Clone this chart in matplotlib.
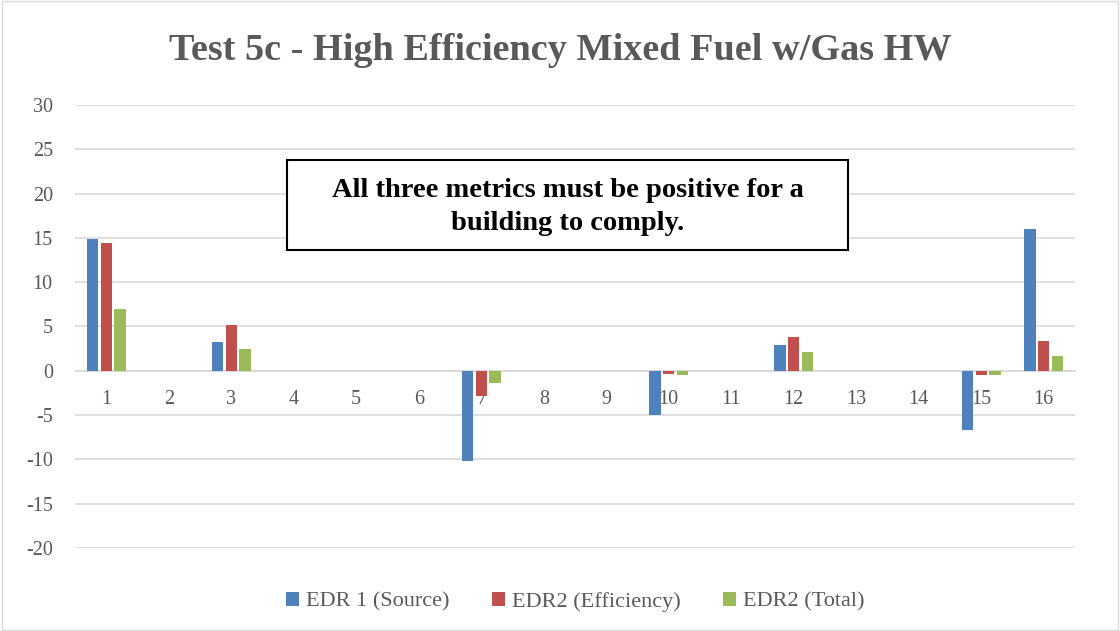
import matplotlib.pyplot as plt
import matplotlib.patches as mpatches
import numpy as np

plt.rcParams['font.family'] = ['Liberation Serif', 'DejaVu Serif']
plt.rcParams['axes.unicode_minus'] = False

categories = [str(i) for i in range(1, 17)]
edr1_source = [14.9, 0, 3.2, 0, 0, 0, -10.2, 0, 0, -5.0, 0, 2.9, 0, 0, -6.65, 16.0]
edr2_eff = [14.4, 0, 5.2, 0, 0, 0, -2.9, 0, 0, -0.4, 0, 3.8, 0, 0, -0.5, 3.35]
edr2_total = [7.0, 0, 2.5, 0, 0, 0, -1.35, 0, 0, -0.45, 0, 2.1, 0, 0, -0.5, 1.7]
series_names = ["EDR 1 (Source)", "EDR2 (Efficiency)", "EDR2 (Total)"]
colors = ["#4F81BD", "#C0504D", "#9BBB59"]

gray = "#595959"

fig = plt.figure(figsize=(11.2, 6.31), dpi=100)
ax = fig.add_axes([75/1120, 1 - 548/631, 1000/1120, 443/631])

x = np.arange(len(categories))
w = 0.18
step = 0.22
for i, (vals, c) in enumerate(zip([edr1_source, edr2_eff, edr2_total], colors)):
    ax.bar(x + (i - 1) * step, vals, width=w, color=c, linewidth=0,
           label=series_names[i], zorder=3)

ax.set_xlim(-0.5, len(categories) - 0.5)
ax.set_ylim(-20, 30)
ax.set_yticks(range(-20, 31, 5))
ax.set_xticks(x)
ax.set_xticklabels(categories)
ax.grid(axis="y", color="#D9D9D9", linewidth=1.2, zorder=0)
for s in ["top", "right", "left"]:
    ax.spines[s].set_visible(False)
ax.spines["bottom"].set_position(("data", 0))
ax.spines["bottom"].set_color("#D9D9D9")
ax.spines["bottom"].set_linewidth(1.2)
ax.tick_params(axis="x", length=0, pad=14, labelsize=14.5, labelcolor=gray)
ax.tick_params(axis="y", length=0, pad=16, labelsize=14.5, labelcolor=gray)

fig.text(0.5, 1 - 50/631, "Test 5c - High Efficiency Mixed Fuel w/Gas HW",
         ha="center", va="center", fontsize=27.5, fontweight="bold", color=gray)

box = mpatches.Rectangle((287/1120, 1 - 250/631), (848 - 287)/1120, 90/631,
                         transform=fig.transFigure, facecolor="white",
                         edgecolor="black", linewidth=1.5, zorder=5)
fig.patches.append(box)
fig.text((287 + 848)/2/1120, 1 - 207/631,
         "All three metrics must be positive for a\nbuilding to comply.",
         ha="center", va="center", fontsize=20.5, fontweight="bold",
         color="black", linespacing=1.4, zorder=6)

ax.legend(loc="center", bbox_to_anchor=(0.5, -54/443), ncol=3, frameon=False,
          fontsize=16, labelcolor=gray, handlelength=0.6, handleheight=0.6,
          handletextpad=0.3, columnspacing=1.9)

border = mpatches.Rectangle((0.002, 0.002), 0.996, 0.996, transform=fig.transFigure,
                            facecolor="none", edgecolor="#D9D9D9", linewidth=1)
fig.patches.append(border)

fig.savefig("out.png", dpi=100)
